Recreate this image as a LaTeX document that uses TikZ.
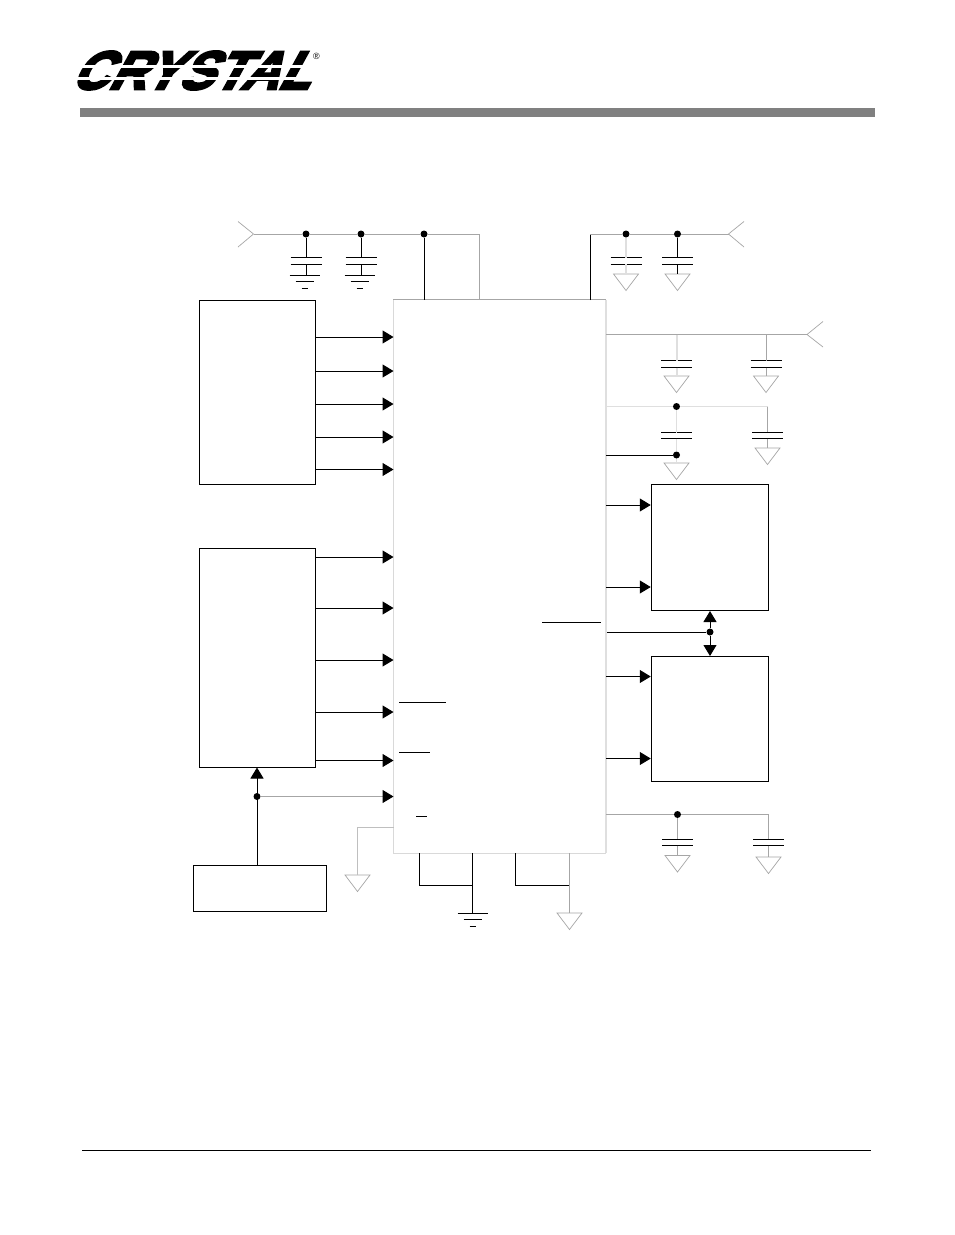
\documentclass[tikz,border=0pt]{standalone}
\usepackage{fontspec}
\usetikzlibrary{arrows.meta}
\newfontfamily\logofont[FakeBold=5]{Liberation Sans Bold}
\newfontfamily\markfont{Liberation Sans}
\tikzstyle{blk} = [draw,line width=1pt,inner sep=0pt]
\tikzstyle{sig} = [draw,line width=1pt,-{Triangle[length=11pt,width=13pt]}]
\tikzstyle{sigg} = [draw,gray!70,line width=1pt,-{Triangle[black,length=11pt,width=13pt]}]
\tikzstyle{dot} = [circle,fill,inner sep=0pt,minimum size=7pt]
\tikzstyle{blackw} = [draw,line width=1pt]
\tikzstyle{greyw} = [draw,gray!70,line width=1pt]
\tikzstyle{palew} = [draw,gray!25,line width=1pt]
\tikzstyle{palet} = [draw,gray!25,line width=2pt]
\tikzstyle{plate} = [draw,line width=1pt]
\tikzstyle{tri} = [draw,gray!70,line width=.7pt]
\newcommand{\capp}[4]{
  \coordinate (#1t) at (#2,#3);
  \coordinate (#1b) at (#2,#4);
  \draw[plate] (#2-15.5,#3) -- (#2+15.5,#3);
  \draw[plate] (#2-15.5,#4) -- (#2+15.5,#4);
}
\newcommand{\gtri}[3]{
  \coordinate (#1) at (#2,#3);
  \draw[tri] (#2-12.5,#3) -- (#2+12.5,#3) -- (#2,#3+16.5) -- cycle;
}
\newcommand{\gbars}[3]{
  \coordinate (#1) at (#2,#3);
  \draw[plate] (#2-15,#3) -- (#2+15,#3);
  \draw[plate] (#2-9,#3+6) -- (#2+9,#3+6);
  \draw[plate] (#2-3,#3+13) -- (#2+3,#3+13);
}
\begin{document}
\begin{tikzpicture}[x=1pt,y=-1pt]
\useasboundingbox (0,0) rectangle (954,1235);
\fill[white] (0,0) rectangle (954,1235);
% logo and rules
\node (logo) at (199.5,70.5) [xslant=.55,xscale=.94,yscale=.98,transform shape,inner sep=0pt] {\logofont\fontsize{55}{55}\selectfont CRYSTAL};
\fill[white] (70,65) -- (340,65) -- (340,67.5) -- (70,67.5) -- cycle;
\fill[white] (70,77) -- (340,77) -- (340,79.5) -- (70,79.5) -- cycle;
\node (mark) at (316.5,56) {\markfont\fontsize{9}{9}\selectfont ®};
\fill[gray] (80,108) rectangle (875,117);
\draw[line width=1.5pt] (82,1150.5) -- (871,1150.5);
% boxes
\node[inner sep=0pt,minimum width=212.6pt,minimum height=553pt] (chip) at (499.6,576.5) {};
\node[blk,minimum width=116.5pt,minimum height=184pt] (srca) at (257.5,392) {};
\node[blk,minimum width=116.5pt,minimum height=219pt] (srcb) at (257.5,657.5) {};
\node[blk,minimum width=133.5pt,minimum height=46.5pt] (clk) at (260,888.5) {};
\node[blk,minimum width=117.5pt,minimum height=126pt] (outa) at (710,547.5) {};
\node[blk,minimum width=117.5pt,minimum height=125pt] (outb) at (710,719) {};
% chip edges
\draw[gray!70,line width=1pt] (chip.north west) -- (chip.north east);
\draw[gray!30,line width=1pt] (chip.north west) -- (chip.south west);
\draw[palet] (chip.north east) -- (chip.south east);
\draw[gray!30,line width=1pt] (chip.south west) -- (chip.south east);
% bars inside the chip
\draw[plate] (399,702.5) -- (446,702.5);
\draw[plate] (399,752) -- (430,752);
\draw[plate] (416,816.5) -- (427,816.5);
\draw[plate] (542,622.5) -- (601,622.5);
% inputs on the left
\coordinate (ia1) at (393.5,337);
\coordinate (ia2) at (393.5,371);
\coordinate (ia3) at (393.5,404);
\coordinate (ia4) at (393.5,437);
\coordinate (ia5) at (393.5,469.5);
\draw[sig] (srca.east |- ia1) -- (ia1);
\draw[sig] (srca.east |- ia2) -- (ia2);
\draw[sig] (srca.east |- ia3) -- (ia3);
\draw[sig] (srca.east |- ia4) -- (ia4);
\draw[sig] (srca.east |- ia5) -- (ia5);
\coordinate (ib1) at (393.5,557);
\coordinate (ib2) at (393.5,608);
\coordinate (ib3) at (393.5,660);
\coordinate (ib4) at (393.5,712);
\coordinate (ib5) at (393.5,760.5);
\draw[sig] (srcb.east |- ib1) -- (ib1);
\draw[sig] (srcb.east |- ib2) -- (ib2);
\draw[sig] (srcb.east |- ib3) -- (ib3);
\draw[sig] (srcb.east |- ib4) -- (ib4);
\draw[sig] (srcb.east |- ib5) -- (ib5);
% clock
\node[dot] (dclk) at (257,796.5) {};
\coordinate (iclk) at (393.5,796.5);
\coordinate (cup) at (257,865.5);
\draw[sig] (cup) -- (srcb.south -| cup);
\draw[sigg] (dclk) -- (iclk);
% left ground
\coordinate (gl) at (393.5,827.5);
\gtri{tl}{357.5}{875}
\draw[gray!50,line width=1pt] (gl) -- (tl |- gl) -- (tl);
% top left rail
\coordinate (vin) at (253.5,234);
\coordinate (vc) at (479,234);
\coordinate (vs) at (479,300);
\coordinate (vk) at (424,300);
\draw[tri] (238,221.5) -- (vin) -- (238,247);
\node[dot] (d1) at (306,234) {};
\node[dot] (d2) at (361,234) {};
\node[dot] (d3) at (424,234) {};
\draw[greyw] (vin) -- (d1) -- (d2) -- (d3) -- (vc) -- (vs);
\draw[blackw] (d3) -- (vk);
\capp{c1}{306}{257.5}{264}
\capp{c2}{361}{257.5}{264}
\gbars{g1}{304.5}{275}
\gbars{g2}{359.5}{275}
\draw[blackw] (d1) -- (c1t);
\draw[blackw] (d2) -- (c2t);
\draw[blackw] (c1b) -- (c1b |- g1);
\draw[blackw] (c2b) -- (c2b |- g2);
% top right rail
\coordinate (pn) at (590,300);
\coordinate (pc) at (590,234);
\coordinate (vout) at (728.5,234);
\draw[tri] (744,221.5) -- (vout) -- (744,247);
\node[dot] (d4) at (626,234) {};
\node[dot] (d5) at (677.5,234) {};
\draw[blackw] (pn) -- (pc);
\draw[greyw] (pc) -- (d4) -- (d5) -- (vout);
\capp{c3}{626}{257.5}{264}
\capp{c4}{677.5}{257.5}{264}
\gtri{t3}{626}{274}
\gtri{t4}{677.5}{274}
\draw[palet] (d4) -- (c3t);
\draw[palet] (c3b) -- (t3);
\draw[blackw] (d5) -- (c4t);
\draw[blackw] (c4b) -- (t4);
% second rail
\coordinate (ra) at (606,334.5);
\coordinate (ra1) at (676.5,334.5);
\coordinate (ra2) at (766,334.5);
\coordinate (rb) at (807,334.5);
\draw[tri] (823,321.5) -- (rb) -- (823,347);
\draw[greyw] (ra) -- (rb);
\capp{c5}{676.5}{360.5}{367.5}
\capp{c6}{766}{360.5}{367.5}
\gtri{t5}{676.5}{376}
\gtri{t6}{766}{376}
\draw[palet] (ra1) -- (c5t);
\draw[palet] (c5b) -- (t5);
\draw[greyw] (ra2) -- (c6t);
\draw[greyw] (c6b) -- (t6);
% third rail
\coordinate (rc) at (606,406.5);
\coordinate (rc2) at (767.5,406.5);
\node[dot] (d6) at (676.5,406.5) {};
\node[dot] (d7) at (676.5,455) {};
\coordinate (rd) at (606,455);
\draw[palew] (rc) -- (d6) -- (rc2);
\draw[greyw] (rc2) -- (767.5,432.5);
\draw[blackw] (rd) -- (d7);
\capp{c7}{676.5}{432.5}{438.5}
\capp{c8}{767.5}{432.5}{438.5}
\gtri{t7}{676.5}{463}
\gtri{t8}{767.5}{448}
\draw[palew] (d6) -- (c7t);
\draw[palew] (c7b) -- (d7);
\draw[palew] (d7) -- (t7);
\draw[greyw] (c8b) -- (t8);
% outputs on the right
\coordinate (oa1) at (606,505);
\coordinate (oa2) at (606,587);
\coordinate (ob1) at (606,676.5);
\coordinate (ob2) at (606,758.5);
\draw[sig] (oa1) -- (outa.west |- oa1);
\draw[sig] (oa2) -- (outa.west |- oa2);
\draw[sig] (ob1) -- (outb.west |- ob1);
\draw[sig] (ob2) -- (outb.west |- ob2);
% link between the two output blocks
\node[dot] (d8) at (710,632) {};
\coordinate (lk) at (607,632);
\draw[blackw] (lk) -- (d8);
\draw[sig] (d8) -- (outa.south);
\draw[sig] (d8) -- (outb.north);
% bottom right rail
\coordinate (re) at (606,814.5);
\coordinate (re2) at (768.5,814.5);
\node[dot] (d9) at (677.5,814.5) {};
\draw[greyw] (re) -- (d9) -- (re2);
\capp{c9}{677.5}{839}{845.5}
\capp{c10}{768.5}{839}{845.5}
\gtri{t9}{677.5}{855.5}
\gtri{t10}{768.5}{857}
\draw[greyw] (d9) -- (c9t);
\draw[greyw] (c9b) -- (t9);
\draw[greyw] (re2) -- (c10t);
\draw[greyw] (c10b) -- (t10);
% bottom of the chip
\coordinate (ba) at (419.5,853);
\coordinate (bb) at (472.5,853);
\coordinate (bj) at (472.5,885.5);
\gbars{g3}{472.5}{913.5}
\draw[blackw] (ba) -- (ba |- bj) -- (bj);
\draw[blackw] (bb) -- (g3);
\coordinate (bc) at (515.5,853);
\coordinate (bd) at (569.5,853);
\coordinate (bk) at (569.5,885.5);
\gtri{t11}{569.5}{913}
\draw[blackw] (bc) -- (bc |- bk) -- (bk);
\draw[greyw] (bd) -- (t11);
\end{tikzpicture}
\end{document}
